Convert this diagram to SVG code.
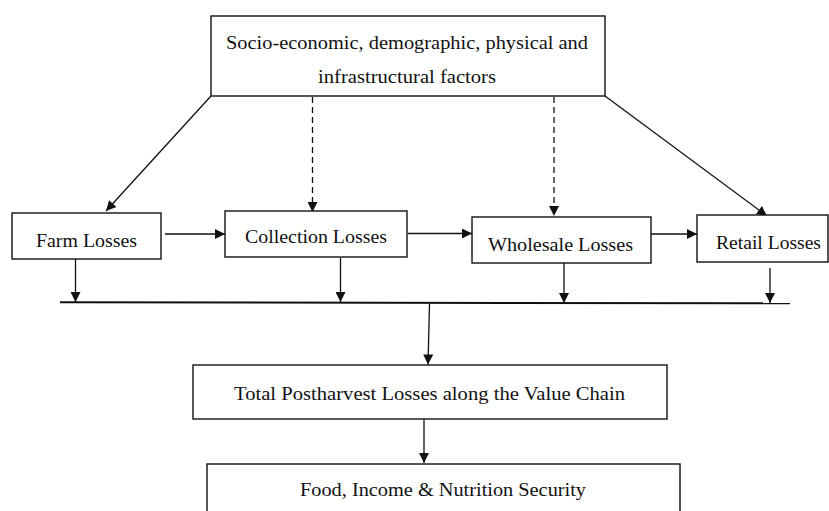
<svg xmlns="http://www.w3.org/2000/svg" width="829" height="511" viewBox="0 0 829 511">
<style>
.box{fill:#fff;stroke:#111;stroke-width:1.4}
.t{font-family:"Liberation Serif","Times New Roman",serif;font-size:19px;fill:#111;text-anchor:start}
.c{fill:none;stroke:#111;stroke-width:1.3}
.d{stroke-dasharray:6,4}
.bus{fill:none;stroke:#111;stroke-width:2}
</style>
<defs>
<marker id="ah" viewBox="0 0 10 10" refX="10" refY="5" markerWidth="12" markerHeight="10" markerUnits="userSpaceOnUse" orient="auto">
<path d="M0,0 L10,5 L0,10 Z" fill="#111"/>
</marker>
</defs>
<rect width="829" height="511" fill="#fff"/>
<g id="connectors">
<line class="c" x1="211" y1="96" x2="106" y2="211" marker-end="url(#ah)"/>
<line class="c d" x1="312.5" y1="97" x2="312.5" y2="212" marker-end="url(#ah)"/>
<line class="c d" x1="554" y1="97" x2="554" y2="216" marker-end="url(#ah)"/>
<line class="c" x1="605" y1="96" x2="767" y2="216" marker-end="url(#ah)"/>
<line class="c" x1="165" y1="234" x2="225" y2="234" marker-end="url(#ah)"/>
<line class="c" x1="408" y1="233.5" x2="472" y2="233.5" marker-end="url(#ah)"/>
<line class="c" x1="648" y1="234" x2="697" y2="234" marker-end="url(#ah)"/>
<line class="c" x1="75.5" y1="259" x2="75.5" y2="302" marker-end="url(#ah)"/>
<line class="c" x1="340.5" y1="258" x2="340.5" y2="302" marker-end="url(#ah)"/>
<line class="c" x1="564" y1="263" x2="564" y2="303" marker-end="url(#ah)"/>
<line class="c" x1="770" y1="268" x2="770" y2="303" marker-end="url(#ah)"/>
<line class="bus" x1="60" y1="302.3" x2="790" y2="303.3"/>
<line class="c" x1="429.5" y1="304" x2="428" y2="364.5" marker-end="url(#ah)"/>
<line class="c" x1="424" y1="419" x2="424" y2="463" marker-end="url(#ah)"/>
</g>
<g id="factors">
<rect class="box" x="211" y="16" width="394" height="80"/>
<text class="t" x="226" y="49" textLength="362" lengthAdjust="spacingAndGlyphs">Socio-economic, demographic, physical and</text>
<text class="t" x="318" y="83" textLength="178" lengthAdjust="spacingAndGlyphs">infrastructural factors</text>
</g>
<g id="farm">
<rect class="box" x="12" y="213" width="149" height="46"/>
<text class="t" x="36" y="247" textLength="101" lengthAdjust="spacingAndGlyphs">Farm Losses</text>
</g>
<g id="collection">
<rect class="box" x="225" y="211" width="182" height="46"/>
<text class="t" x="245" y="243" textLength="142" lengthAdjust="spacingAndGlyphs">Collection Losses</text>
</g>
<g id="wholesale">
<rect class="box" x="472" y="217" width="179" height="46"/>
<text class="t" x="488" y="251" textLength="145" lengthAdjust="spacingAndGlyphs">Wholesale Losses</text>
</g>
<g id="retail">
<rect class="box" x="697" y="215" width="131" height="47"/>
<text class="t" x="716" y="248.5" textLength="105" lengthAdjust="spacingAndGlyphs">Retail Losses</text>
</g>
<g id="total">
<rect class="box" x="193" y="365" width="474" height="54"/>
<text class="t" x="234" y="399.5" textLength="391" lengthAdjust="spacingAndGlyphs">Total Postharvest Losses along the Value Chain</text>
</g>
<g id="security">
<rect class="box" x="207" y="464" width="473" height="60"/>
<text class="t" x="300" y="496" textLength="286" lengthAdjust="spacingAndGlyphs">Food, Income &amp; Nutrition Security</text>
</g>
</svg>
